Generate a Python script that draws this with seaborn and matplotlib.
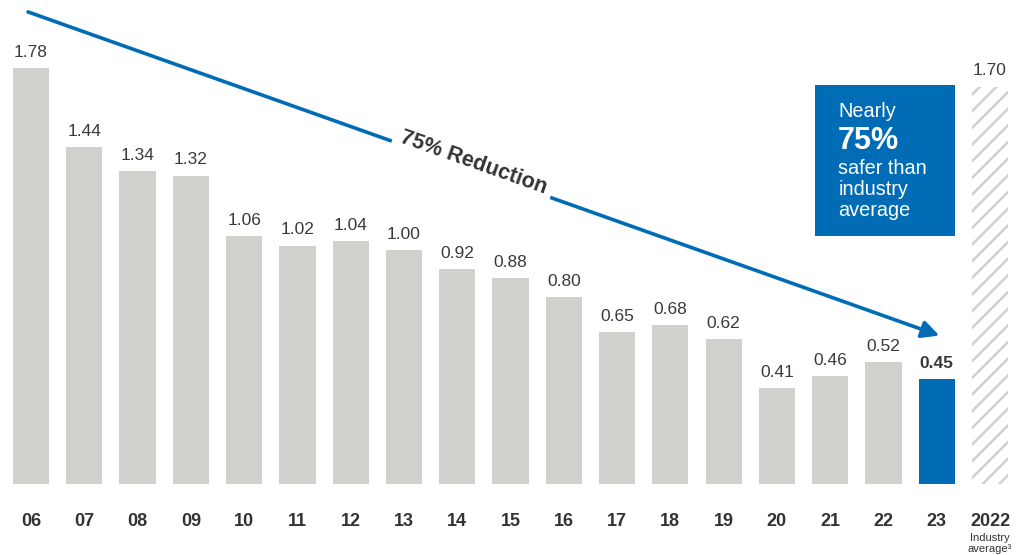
import matplotlib
matplotlib.use("Agg")
import matplotlib.pyplot as plt
import seaborn as sns
import pandas as pd
import numpy as np
from matplotlib.patches import Rectangle

categories = ["06", "07", "08", "09", "10", "11", "12", "13", "14", "15", "16",
              "17", "18", "19", "20", "21", "22", "23", "2022"]
values = [1.78, 1.44, 1.34, 1.32, 1.06, 1.02, 1.04, 1.00, 0.92, 0.88, 0.80,
          0.65, 0.68, 0.62, 0.41, 0.46, 0.52, 0.45, 1.70]
value_labels = ["1.78", "1.44", "1.34", "1.32", "1.06", "1.02", "1.04", "1.00", "0.92",
                "0.88", "0.80", "0.65", "0.68", "0.62", "0.41", "0.46", "0.52", "0.45", "1.70"]
box_lines = ["Nearly", "75%", "safer than", "industry", "average"]

GRAY = "#d0d0cc"
BLUE = "#006cb5"
TXT = "#333333"

sns.set_theme(style="white")
plt.rcParams["font.family"] = ["Liberation Sans", "DejaVu Sans"]
plt.rcParams["hatch.color"] = GRAY
plt.rcParams["hatch.linewidth"] = 1.8

df = pd.DataFrame({"cat": categories, "val": values})
colors = [GRAY] * 17 + [BLUE, "white"]

fig = plt.figure(figsize=(10.22, 5.55), dpi=100)
ax = fig.add_axes([0, 71 / 555, 1, 484 / 555])
sns.barplot(data=df, x="cat", y="val", hue="cat", palette=colors, order=categories,
            hue_order=categories, legend=False, width=0.68, saturation=1, ax=ax)

for i, p in enumerate(ax.patches):
    p.set_linewidth(0)
    if categories[i] == "2022":
        p.set_facecolor("white")
        p.set_edgecolor(GRAY)
        p.set_hatch("//")
        p.set_linewidth(0)

ax.set_xlim(-0.582, 18.6)
ax.set_ylim(0, 2.071)
for s in ax.spines.values():
    s.set_visible(False)
ax.set_yticks([])
ax.set_xlabel("")
ax.set_ylabel("")
ax.tick_params(axis="x", length=0, pad=21)
for lab in ax.get_xticklabels():
    lab.set_fontsize(13)
    lab.set_fontweight("bold")
    lab.set_color(TXT)

for i, (v, t) in enumerate(zip(values, value_labels)):
    bold = categories[i] == "23"
    ax.annotate(t, (i, v), xytext=(0, 6), textcoords="offset points", ha="center",
                va="bottom", fontsize=12.5, color="#3a3a3a",
                fontweight="bold" if bold else "normal")

ax.text(18, -0.21, "Industry\naverage³", ha="center", va="top", fontsize=8,
        color=TXT, linespacing=1.1)

# trend arrow
x0, y0 = -0.056, 2.02
x1, y1 = 17.05, 0.635
ax.annotate("", xy=(x1, y1), xytext=(x0, y0),
            arrowprops=dict(arrowstyle="-|>", color=BLUE, lw=2.6, mutation_scale=26,
                            shrinkA=0, shrinkB=0))
fig.canvas.draw()
p0 = ax.transData.transform((x0, y0))
p1 = ax.transData.transform((x1, y1))
ang = np.degrees(np.arctan2(p1[1] - p0[1], p1[0] - p0[0]))
tx = 8.3
ty = y0 + (y1 - y0) * (tx - x0) / (x1 - x0)
ax.text(tx, ty + 0.03, "75% Reduction", rotation=ang, rotation_mode="anchor",
        ha="center", va="center", fontsize=15.5, fontweight="bold", color=TXT,
        bbox=dict(facecolor="white", edgecolor="none", pad=5))

# callout box
ax.add_patch(Rectangle((14.71, 1.061), 17.34 - 14.71, 1.707 - 1.061,
                       facecolor=BLUE, edgecolor="none", zorder=3))
ys = [1.592, 1.468, 1.352, 1.262, 1.172]
for line, yy in zip(box_lines, ys):
    big = line == "75%"
    ax.text(15.15, yy, line, ha="left", va="center", color="white", zorder=4,
            fontsize=22 if big else 14.3, fontweight="bold" if big else "normal")

fig.savefig("out.png", dpi=100)
